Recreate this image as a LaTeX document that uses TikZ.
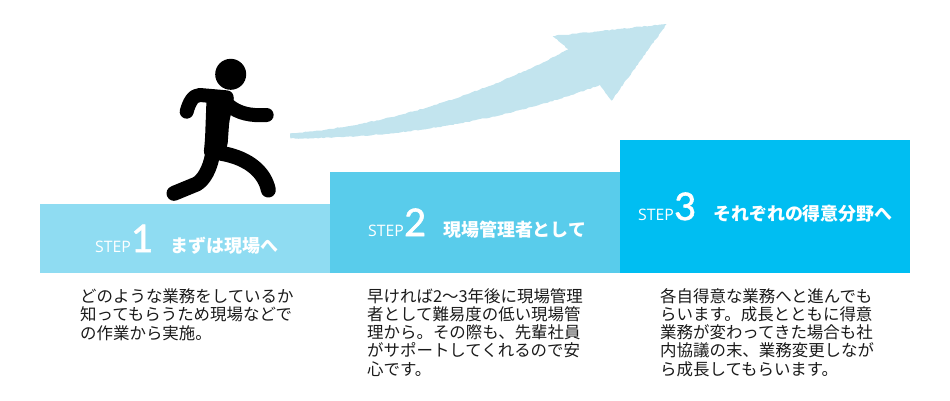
\documentclass[tikz,border=0pt]{standalone}
\usepackage{fontspec}
\setmainfont{Noto Sans CJK JP}
\newfontfamily\cjk{Noto Sans CJK JP}
\newfontfamily\latn{Open Sans}
\newfontfamily\digitfont[FakeBold=1.5]{Lato}
\usetikzlibrary{decorations.pathmorphing}
\definecolor{boxa}{HTML}{8FDCF2}
\definecolor{boxb}{HTML}{59CCEB}
\definecolor{boxc}{HTML}{00BEF2}
\definecolor{arrowc}{HTML}{C2E4EE}
\definecolor{bodyc}{HTML}{1A1A1A}
\tikzset{
  stepbox/.style={anchor=north west,inner sep=0pt,outer sep=0pt,minimum width=290pt},
  steplabel/.style={anchor=base west,inner sep=0pt,text=white,font=\latn\fontsize{15.8}{15.8}\selectfont},
  stepnum/.style={anchor=base west,inner sep=0pt,text=white,font=\digitfont\fontsize{38}{38}\selectfont},
  steptitle/.style={anchor=base west,inner sep=0pt,text=white,font=\cjk\bfseries\fontsize{17.95}{20}\selectfont},
  bodytext/.style={anchor=base west,inner sep=0pt,text=bodyc,align=left,font=\cjk\fontsize{16.45}{18.2}\selectfont},
  limb/.style={line width=14pt,line cap=round,line join=round,black}
}
\begin{document}
\begin{tikzpicture}[x=1pt,y=-1pt]
\useasboundingbox (0,0) rectangle (950,400);
% boxes
\node[stepbox,fill=boxa,minimum height=69pt] (box1) at (40,204) {};
\node[stepbox,fill=boxb,minimum height=101pt] (box2) at (330,172) {};
\node[stepbox,fill=boxc,minimum height=133pt] (box3) at (620,140) {};
% arrow
\begin{scope}[shift={(280,10)},scale=1/3]
\fill[arrowc,decorate,decoration={random steps,segment length=2.5pt,amplitude=0.5pt}]
  (30,370) .. controls (300,350) and (600,260) .. (865,118)
  -- (818,78) -- (1160,42) -- (995,272) -- (960,225)
  .. controls (700,320) and (400,385) .. (32,385) -- cycle;
\end{scope}
% runner
\node[circle,fill=black,minimum size=31pt,inner sep=0pt] (head) at (230.7,74.3) {};
\begin{scope}[shift={(150,40)},scale=1/3]
\fill[black,rounded corners=6pt] (170,165) -- (250,160) -- (252,190) -- (238,240) -- (232,325) -- (205,360) -- (160,350) -- (165,300) -- cycle;
\draw[limb] (110,215) .. controls (118,185) and (130,165) .. (150,165) -- (230,172);
\draw[limb,line width=15pt] (188,340) .. controls (180,390) and (160,420) .. (140,432) -- (72,460);
\draw[limb] (235,195) .. controls (265,220) and (300,228) .. (350,225);
\draw[limb,line width=15pt] (215,340) .. controls (300,355) and (345,400) .. (355,450);
\end{scope}
% step 1
\node[steplabel] (s1) at (95,252) {STEP};
\node[stepnum] (n1) at (131,252) {1};
\node[steptitle] (t1) at (170.5,252) {まずは現場へ};
\node[bodytext] (b1) at (80,339) {どのような業務をしているか\\知ってもらうため現場などで\\の作業から実施。};
% step 2
\node[steplabel] (s2) at (368,236) {STEP};
\node[stepnum] (n2) at (404,236) {2};
\node[steptitle] (t2) at (443,236) {現場管理者として};
\node[bodytext] (b2) at (367,375) {早ければ2〜3年後に現場管理\\者として難易度の低い現場管\\理から。その際も、先輩社員\\がサポートしてくれるので安\\心です。};
% step 3
\node[steplabel] (s3) at (638,220) {STEP};
\node[stepnum] (n3) at (674,220) {3};
\node[steptitle] (t3) at (713,220) {それぞれの得意分野へ};
\node[bodytext] (b3) at (660,375) {各自得意な業務へと進んでも\\らいます。成長とともに得意\\業務が変わってきた場合も社\\内協議の末、業務変更しなが\\ら成長してもらいます。};
\end{tikzpicture}
\end{document}
